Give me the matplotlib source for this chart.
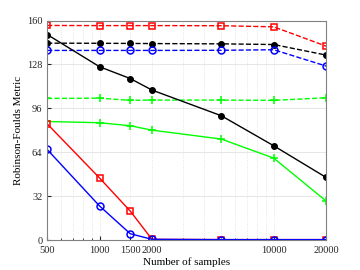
import matplotlib
matplotlib.use("Agg")
import matplotlib.pyplot as plt
from matplotlib.ticker import FixedLocator, NullFormatter

plt.rcParams['font.family'] = ['Liberation Serif', 'DejaVu Serif']

samples = [500, 1000, 1500, 2000, 5000, 10000, 20000]
xticks = [500, 1000, 1500, 2000, 10000, 20000]
yticks = [0, 32, 64, 96, 128, 160]

red_dash = [156.4, 156.3, 156.3, 156.3, 156.2, 155.4, 141.3]
black_dash = [143.5, 143.4, 143.3, 143.2, 143.0, 142.5, 134.8]
blue_dash = [138.2, 138.2, 138.2, 138.2, 138.3, 138.7, 126.8]
green_dash = [103.2, 103.4, 101.8, 102.0, 102.0, 101.8, 103.7]
black_solid = [149.8, 126.3, 117.7, 109.3, 90.6, 68.7, 45.6]
green_solid = [86.4, 85.5, 83.3, 80.1, 73.6, 59.7, 28.4]
red_solid = [84.7, 45.2, 21.1, 0.5, 0.3, 0.3, 0.3]
blue_solid = [66.0, 24.8, 4.6, 0.5, 0.3, 0.3, 0.3]

fig = plt.figure(figsize=(3.6, 2.7), dpi=100)
ax = fig.add_axes([0.131, 0.111, 0.775, 0.813])

lw = 1.0
ms = 4
ax.plot(samples, red_dash, '--', color='#ff0000', lw=lw, marker='s', ms=ms, mfc='none', mew=1.1)
ax.plot(samples, black_dash, '--', color='black', lw=lw, marker='o', ms=ms, mfc='black')
ax.plot(samples, blue_dash, '--', color='#0000ff', lw=lw, marker='o', ms=ms + 1, mfc='none', mew=1.1)
ax.plot(samples, green_dash, '--', color='#00ff00', lw=lw, marker='+', ms=ms + 2, mew=1.1)
ax.plot(samples, black_solid, '-', color='black', lw=lw, marker='o', ms=ms, mfc='black')
ax.plot(samples, green_solid, '-', color='#00ff00', lw=lw, marker='+', ms=ms + 2, mew=1.1)
ax.plot(samples, red_solid, '-', color='#ff0000', lw=lw, marker='s', ms=ms, mfc='none', mew=1.1)
ax.plot(samples, blue_solid, '-', color='#0000ff', lw=lw, marker='o', ms=ms + 1, mfc='none', mew=1.1)

ax.set_xscale('log')
ax.set_xlim(500, 20000)
ax.set_ylim(0, 160)
ax.xaxis.set_major_locator(FixedLocator(xticks))
ax.xaxis.set_minor_locator(FixedLocator([600, 700, 800, 900, 3000, 4000, 5000, 6000, 7000, 8000, 9000]))
ax.xaxis.set_minor_formatter(NullFormatter())
ax.set_xticklabels([str(v) for v in xticks])
ax.set_yticks(yticks)
ax.set_yticklabels([str(v) for v in yticks])

ax.grid(True, which='major', axis='y', color='#e6e6e6', lw=0.7)
ax.grid(True, which='major', axis='x', color='#dddddd', lw=0.6, ls=':')
ax.grid(True, which='minor', axis='x', color='#dddddd', lw=0.6, ls=':')
ax.set_axisbelow(True)

ax.tick_params(which='both', direction='in', labelsize=7.5, colors='#262626', length=3)
ax.tick_params(which='minor', length=1.5)
ax.tick_params(axis='x', pad=4)
for s in ax.spines.values():
    s.set_color('#808080')
    s.set_linewidth(0.8)

ax.set_xlabel('Number of samples', fontsize=8, labelpad=2)
ax.set_ylabel('Robinson-Foulds Metric', fontsize=8, labelpad=3)

fig.savefig('out.png', dpi=100)
